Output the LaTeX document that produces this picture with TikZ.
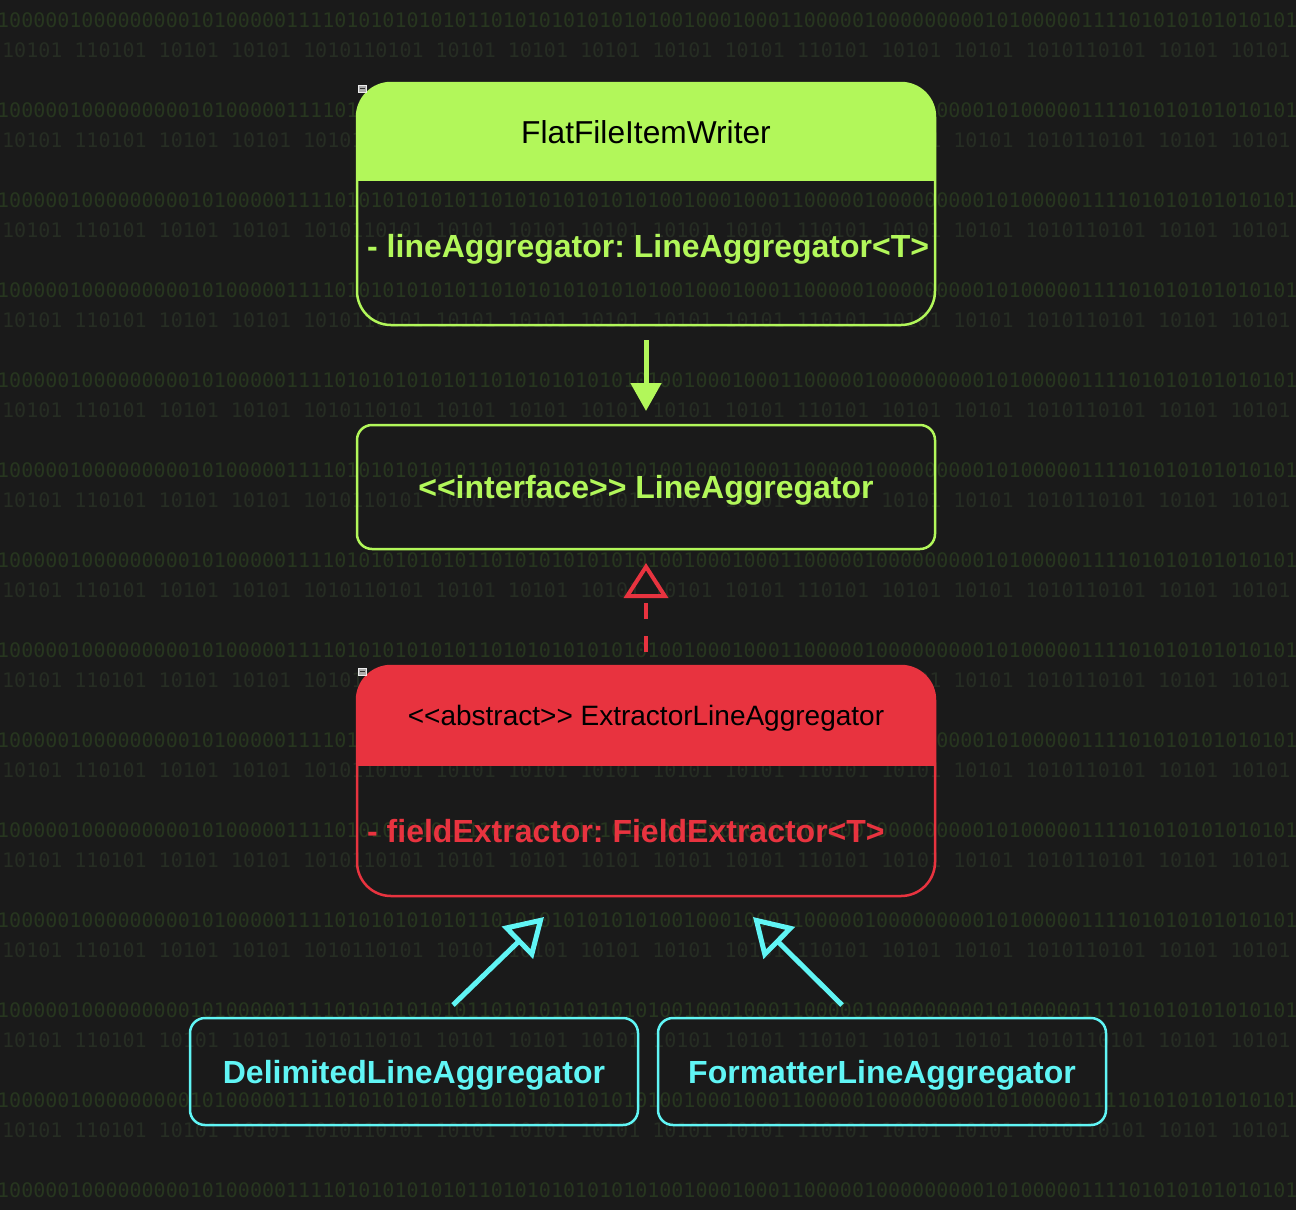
\documentclass[tikz,border=0pt]{standalone}
\usepackage{fontspec}
\setmainfont{Liberation Sans}
\setmonofont{DejaVu Sans Mono}
\usetikzlibrary{arrows.meta,calc,positioning}

\definecolor{bgdark}{HTML}{1A1A1A}
\definecolor{binA}{HTML}{27361F}
\definecolor{binB}{HTML}{262D23}
\definecolor{limegreen}{HTML}{B2F75A}
\definecolor{alertred}{HTML}{E8333F}
\definecolor{aquacyan}{HTML}{60F5F5}

\newcommand{\binrowA}{10000010000000001010000011110101010101011010101010101010010001000110000010000000001010000011110101010101010110101010}
\newcommand{\binrowB}{10101 110101 10101 10101 1010110101 10101 10101 10101 10101 10101 110101 10101 10101 1010110101 10101 10101}

\tikzset{
  binrow/.style={anchor=west, inner sep=0pt, font=\fontsize{20}{21}\ttfamily},
  classbox/.style={draw=#1, line width=2.5pt, rounded corners=34pt, minimum width=578pt, inner sep=0pt, outer sep=0pt},
  header/.style 2 args={path picture={\fill[#1, sharp corners] (path picture bounding box.north west) rectangle ([yshift=-#2]path picture bounding box.north east);}},
  plainbox/.style={draw=#1, text=#1, line width=2.5pt, rounded corners=15pt, inner sep=0pt, outer sep=0pt,
    text height=23pt, text depth=0pt, font=\fontsize{32}{38}\selectfont\bfseries},
  titletext/.style={anchor=base, inner sep=0pt, text=black},
  attrtext/.style={anchor=base west, inner sep=0pt, font=\fontsize{32}{38}\selectfont\bfseries},
  foldicon/.style={draw=white!85!gray, fill=gray!65, line width=0.8pt, minimum width=8pt, minimum height=7pt, inner sep=0pt,
    path picture={\draw[black!80, line width=1.5pt] ([xshift=1.5pt]path picture bounding box.west) -- ([xshift=-1.5pt]path picture bounding box.east);}},
  assoc/.style={limegreen, line width=5pt, -{Triangle[length=28pt,width=30pt]}},
  realize/.style={alertred, line width=4pt, dash pattern=on 16pt off 17pt, -{Triangle[open,length=35pt,width=44pt]}},
  inherit/.style={aquacyan, line width=5pt, -{Triangle[open,length=37pt,width=44pt]}}
}
\frenchspacing

\begin{document}
\begin{tikzpicture}[x=1pt,y=-1pt]
\useasboundingbox (0,0) rectangle (1296,1210);
\fill[bgdark] (0,0) rectangle (1296,1210);

% binary backdrop
\begin{scope}
  \clip (0,0) rectangle (1296,1210);
  \foreach \r in {0,...,13}{
    \node[binrow, text=binA] (bin-a-\r) at (-3,20+90*\r) {\binrowA};
    \node[binrow, text=binB] (bin-b-\r) at (2,50+90*\r) {\binrowB};
  }
\end{scope}

% classes
\node[classbox=limegreen, header={limegreen}{98pt}, minimum height=242pt] (writer) at (646,204) {};
\node[titletext, font=\fontsize{31.7}{38}\selectfont] (writer-title) at ([yshift=-60pt]writer.north) {FlatFileItemWriter};
\node[attrtext, text=limegreen] (writer-attr) at ([xshift=10pt,yshift=68pt]writer.south west) {- lineAggregator: LineAggregator<T>};
\node[foldicon] (writer-fold) at ($(writer.north west)+(5,5.5)$) {};

\node[plainbox=limegreen, minimum width=578pt, minimum height=124pt] (iface) at (646,487) {<{}<interface>{}> LineAggregator};

\node[classbox=alertred, header={alertred}{100pt}, minimum height=230pt] (extractor) at (646,781) {};
\node[titletext, font=\fontsize{28}{34}\selectfont] (extractor-title) at ([yshift=-59pt]extractor.north) {<{}<abstract>{}> ExtractorLineAggregator};
\node[attrtext, text=alertred] (extractor-attr) at ([xshift=10pt,yshift=54pt]extractor.south west) {- fieldExtractor: FieldExtractor<T>};
\node[foldicon] (extractor-fold) at ($(extractor.north west)+(5,5.5)$) {};

\node[plainbox=aquacyan, minimum width=448pt, minimum height=107pt] (delim) at (414,1071.5) {DelimitedLineAggregator};
\node[plainbox=aquacyan, minimum width=448pt, minimum height=107pt] (formatter) at (882,1071.5) {FormatterLineAggregator};

% relations
\draw[assoc] ([yshift=-15pt]writer.south) -- ([yshift=14pt]iface.north);
\draw[realize] ([yshift=14pt]extractor.north) -- ([yshift=-14pt]iface.south);

\coordinate (delim-tail) at ($(delim.north)+(39,-13)$);
\coordinate (delim-tip) at ($(extractor.south)+(-102,21)$);
\coordinate (formatter-tail) at ($(formatter.north)+(-40,-13)$);
\coordinate (formatter-tip) at ($(extractor.south)+(107,21)$);
\draw[inherit] (delim-tail) -- (delim-tip);
\draw[inherit] (formatter-tail) -- (formatter-tip);
\end{tikzpicture}
\end{document}
